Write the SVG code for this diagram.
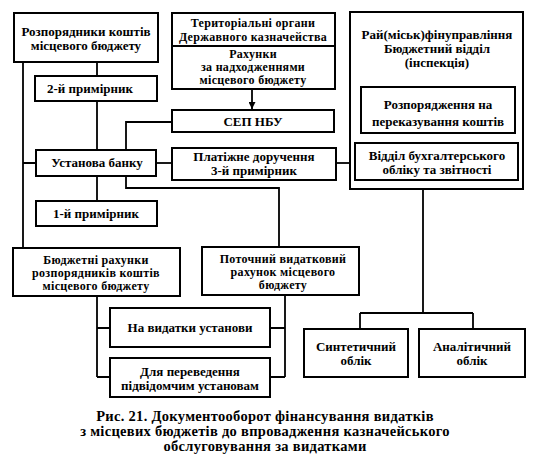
<svg xmlns="http://www.w3.org/2000/svg" width="536" height="458" viewBox="0 0 536 458">
<style>
.box{fill:#fff;stroke:#000;stroke-width:2}
.ln{fill:none;stroke:#000;stroke-width:1.8}
text{font-family:"Liberation Serif","Times New Roman",serif;font-weight:bold;font-size:13px;text-anchor:middle;fill:#000}
.s{font-size:12px;letter-spacing:0.3px}
.cap{font-size:14.5px;letter-spacing:0.3px}
</style>
<defs>
<marker id="arr" viewBox="0 0 10 10" refX="10" refY="5" markerWidth="7" markerHeight="7" orient="auto" markerUnits="userSpaceOnUse">
<path d="M0,0 L10,5 L0,10 z" fill="#000"/>
</marker>
</defs>
<rect width="536" height="458" fill="#fff"/>
<g id="connectors">
<path class="ln" d="M23,62 V248 M23,163 H36"/>
<path class="ln" d="M97,62 V76 M97,101 V150 M97,176 V201"/>
<path class="ln" d="M156,163 H172"/>
<path class="ln" d="M172,122 H126 V188 H279 V247"/>
<path class="ln" d="M252,89 V109" marker-end="url(#arr)"/>
<path class="ln" d="M336,163 H355"/>
<path class="ln" d="M423,189 V313 M360,313 H473 M360,313 V329 M473,313 V329"/>
<path class="ln" d="M97,296 V377 M97,328 H110 M97,377 H110"/>
<path class="ln" d="M285,295 V377 M270,328 H285 M270,377 H285"/>
</g>
<g id="n-rozporyadnyky">
<rect class="box" x="14" y="13" width="144" height="49"/>
<text x="86" y="36">Розпорядники коштів</text>
<text x="86" y="50">місцевого бюджету</text>
</g>
<g id="n-prymirnyk2">
<rect class="box" x="35" y="76" width="122" height="25"/>
<text x="90" y="93">2-й примірник</text>
</g>
<g id="n-ustanova">
<rect class="box" x="36" y="150" width="120" height="26"/>
<text x="97" y="167">Установа банку</text>
</g>
<g id="n-prymirnyk1">
<rect class="box" x="36" y="201" width="121" height="25"/>
<text x="96" y="218">1-й примірник</text>
</g>
<g id="n-terorgany">
<rect class="box" x="172" y="13" width="163" height="76"/>
<line class="ln" x1="172" y1="46" x2="335" y2="46"/>
<text class="s" x="253" y="27">Територіальні органи</text>
<text class="s" x="253" y="41">Державного казначейства</text>
<text class="s" x="253" y="58">Рахунки</text>
<text class="s" x="253" y="71">за надходженнями</text>
<text class="s" x="253" y="84">місцевого бюджету</text>
</g>
<g id="n-sep">
<rect class="box" x="172" y="110" width="162" height="22"/>
<text x="253" y="126">СЕП НБУ</text>
</g>
<g id="n-platizhne">
<rect class="box" x="172" y="148" width="164" height="32"/>
<text x="254" y="161">Платіжне доручення</text>
<text x="254" y="175">3-й примірник</text>
</g>
<g id="n-finupravlinnya">
<rect class="box" x="350" y="12" width="173" height="177"/>
<text x="437" y="39">Рай(міськ)фінуправління</text>
<text x="437" y="53">Бюджетний відділ</text>
<text x="437" y="67">(інспекція)</text>
</g>
<g id="n-rozporyadzhennya">
<rect class="box" x="361" y="87" width="154" height="46"/>
<text x="438" y="109">Розпорядження на</text>
<text x="438" y="126">переказування коштів</text>
</g>
<g id="n-viddil">
<rect class="box" x="355" y="143" width="163" height="37"/>
<text x="437" y="160">Відділ бухгалтерського</text>
<text x="437" y="174">обліку та звітності</text>
</g>
<g id="n-byudzhetni">
<rect class="box" x="13" y="248" width="167" height="48"/>
<text class="s" x="96" y="264">Бюджетні рахунки</text>
<text class="s" x="96" y="277">розпорядників коштів</text>
<text class="s" x="96" y="290">місцевого бюджету</text>
</g>
<g id="n-potochnyi">
<rect class="box" x="202" y="247" width="157" height="48"/>
<text class="s" x="283" y="263">Поточний видатковий</text>
<text class="s" x="283" y="276">рахунок місцевого</text>
<text class="s" x="283" y="289">бюджету</text>
</g>
<g id="n-vydatky">
<rect class="box" x="110" y="308" width="160" height="39"/>
<text x="190" y="332">На видатки установи</text>
</g>
<g id="n-perevedennya">
<rect class="box" x="110" y="358" width="160" height="39"/>
<text x="190" y="376">Для переведення</text>
<text x="190" y="390">підвідомчим установам</text>
</g>
<g id="n-syntetychnyi">
<rect class="box" x="304" y="329" width="104" height="48"/>
<text x="356" y="351">Синтетичний</text>
<text x="356" y="365">облік</text>
</g>
<g id="n-analitychnyi">
<rect class="box" x="419" y="329" width="106" height="48"/>
<text x="472" y="351">Аналітичний</text>
<text x="472" y="365">облік</text>
</g>
<g id="caption">
<text class="cap" x="265" y="421">Рис. 21. Документооборот фінансування видатків</text>
<text class="cap" x="265" y="436">з місцевих бюджетів до впровадження казначейського</text>
<text class="cap" x="265" y="451">обслуговування за видатками</text>
</g>
</svg>
